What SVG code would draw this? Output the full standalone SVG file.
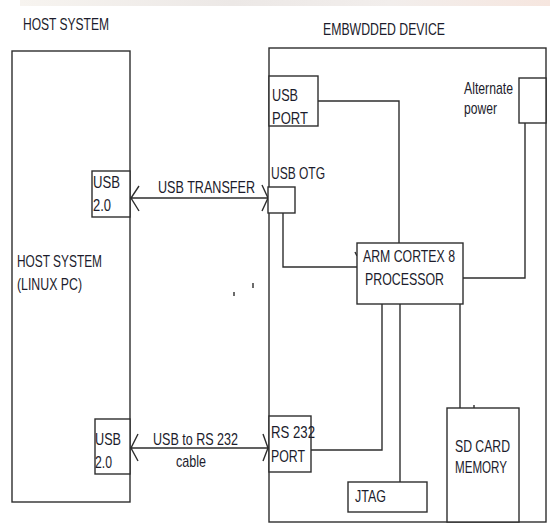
<svg xmlns="http://www.w3.org/2000/svg" width="550" height="529" viewBox="0 0 550 529">
<defs>
<linearGradient id="band" x1="0" x2="1" y1="0" y2="0">
<stop offset="0" stop-color="#f7f4f0"/>
<stop offset="0.4" stop-color="#ece8e6"/>
<stop offset="0.7" stop-color="#f2eeec"/>
<stop offset="1" stop-color="#f6e6df"/>
</linearGradient>
</defs>
<style>
.b{fill:#fff;stroke:#2e2e2e;stroke-width:1.4}
.l{fill:none;stroke:#2e2e2e;stroke-width:1.4}
.t{font-family:"Liberation Sans",Arial,sans-serif;font-size:17px;fill:#1c1c2c}
</style>
<rect width="550" height="529" fill="#fff"/>
<rect x="20" y="0" width="530" height="6" fill="url(#band)"/>
<text class="t" x="23" y="30" textLength="86" lengthAdjust="spacingAndGlyphs">HOST SYSTEM</text>
<text class="t" x="323" y="35" textLength="122" lengthAdjust="spacingAndGlyphs">EMBWDDED DEVICE</text>
<g id="host">
<rect class="b" x="12" y="51" width="118" height="451"/>
<text class="t" x="17" y="267" textLength="85" lengthAdjust="spacingAndGlyphs">HOST SYSTEM</text>
<text class="t" x="17" y="290" textLength="65" lengthAdjust="spacingAndGlyphs">(LINUX PC)</text>
</g>
<g id="device">
<rect class="b" x="269" y="48" width="277" height="474"/>
</g>
<g id="usb20-top">
<rect class="b" x="92" y="171" width="38" height="46"/>
<text class="t" x="93" y="188" textLength="27" lengthAdjust="spacingAndGlyphs">USB</text>
<text class="t" x="93" y="211" textLength="18" lengthAdjust="spacingAndGlyphs">2.0</text>
</g>
<g id="usb20-bottom">
<rect class="b" x="95" y="419" width="35" height="55"/>
<text class="t" x="95" y="445" textLength="26" lengthAdjust="spacingAndGlyphs">USB</text>
<text class="t" x="95" y="468" textLength="17" lengthAdjust="spacingAndGlyphs">2.0</text>
</g>
<g id="connectors">
<path class="l" d="M130 198H269M139 186L131 198L139 211M262 185L268 198L262 211"/>
<path class="l" d="M130 448H269M138 434L131 448L138 461M263 434L268 448L263 461"/>
<path class="l" d="M318 101H399V243"/>
<path class="l" d="M525 123V278H463"/>
<path class="l" d="M283 213V267H357"/>
<path class="l" d="M382 304V450H311"/>
<path class="l" d="M400 304V482"/>
<path class="l" d="M460 304V408"/>
<path class="l" d="M234 292V296M253 283V288M355 252L357 256M474 405V408" stroke-width="1.2"/>
</g>
<g id="usb-port">
<rect class="b" x="269" y="76" width="49" height="50"/>
<text class="t" x="272" y="101" textLength="26" lengthAdjust="spacingAndGlyphs">USB</text>
<text class="t" x="272" y="124" textLength="36" lengthAdjust="spacingAndGlyphs">PORT</text>
</g>
<g id="alt-power">
<rect class="b" x="519" y="78" width="27" height="45"/>
<text class="t" x="464" y="94" textLength="49" lengthAdjust="spacingAndGlyphs">Alternate</text>
<text class="t" x="464" y="114" textLength="33" lengthAdjust="spacingAndGlyphs">power</text>
</g>
<g id="usb-otg">
<rect class="b" x="268" y="187" width="27" height="26"/>
<text class="t" x="271" y="179" textLength="54" lengthAdjust="spacingAndGlyphs">USB OTG</text>
</g>
<g id="arm">
<rect class="b" x="357" y="243" width="106" height="61"/>
<text class="t" x="363" y="262" textLength="92" lengthAdjust="spacingAndGlyphs">ARM CORTEX 8</text>
<text class="t" x="365" y="285" textLength="79" lengthAdjust="spacingAndGlyphs">PROCESSOR</text>
</g>
<g id="rs232">
<rect class="b" x="269" y="416" width="42" height="56"/>
<text class="t" x="271" y="438" textLength="44" lengthAdjust="spacingAndGlyphs">RS 232</text>
<text class="t" x="271" y="462" textLength="34" lengthAdjust="spacingAndGlyphs">PORT</text>
</g>
<g id="jtag">
<rect class="b" x="348" y="482" width="79" height="30"/>
<text class="t" x="355" y="502" textLength="31" lengthAdjust="spacingAndGlyphs">JTAG</text>
</g>
<g id="sd-card">
<rect class="b" x="447" y="408" width="72" height="114"/>
<text class="t" x="455" y="452" textLength="55" lengthAdjust="spacingAndGlyphs">SD CARD</text>
<text class="t" x="455" y="473" textLength="52" lengthAdjust="spacingAndGlyphs">MEMORY</text>
</g>
<g id="labels">
<text class="t" x="158" y="193" textLength="97" lengthAdjust="spacingAndGlyphs">USB TRANSFER</text>
<text class="t" x="153" y="445" textLength="85" lengthAdjust="spacingAndGlyphs">USB to RS 232</text>
<text class="t" x="176" y="467" textLength="30" lengthAdjust="spacingAndGlyphs">cable</text>
</g>
</svg>
